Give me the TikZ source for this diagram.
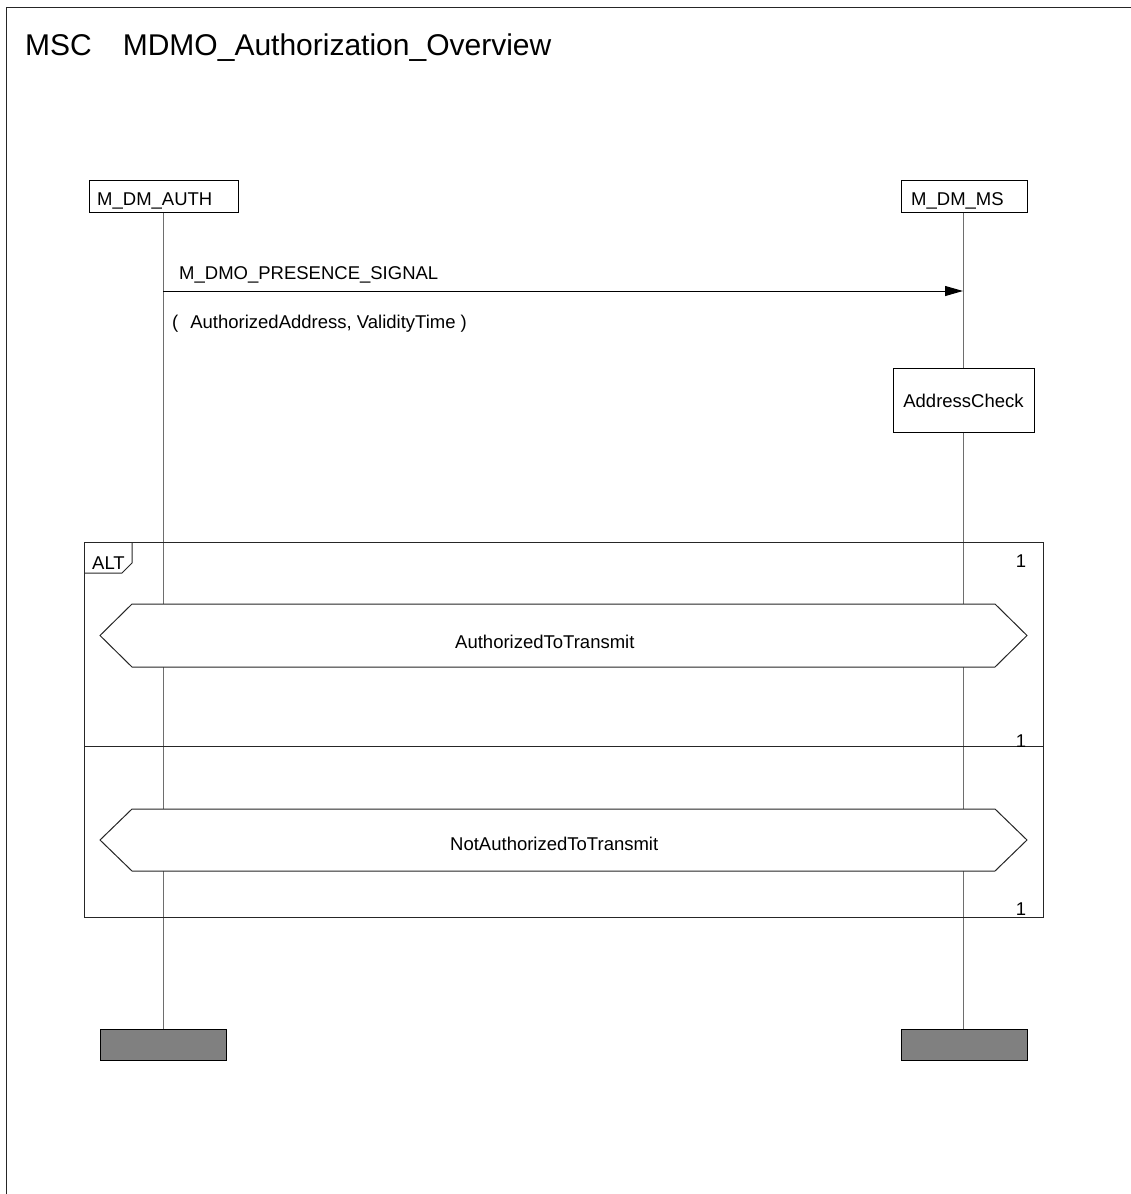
\documentclass[tikz,border=0pt]{standalone}
\usepackage{fontspec}
\setmainfont{Liberation Sans}
\usetikzlibrary{arrows.meta}
\definecolor{lifegray}{RGB}{110,110,110}
\definecolor{endgray}{RGB}{128,128,128}
\begin{document}
\begin{tikzpicture}[x=1pt,y=-1pt,
  lbl/.style={font=\fontsize{18.5}{22}\selectfont, inner sep=0pt},
  ttl/.style={font=\fontsize{30}{36}\selectfont, inner sep=0pt},
  inst/.style={draw=black, line width=1pt, fill=white, inner sep=0pt},
  endbox/.style={draw=black, line width=1pt, fill=endgray, inner sep=0pt, minimum width=126pt, minimum height=31pt},
  life/.style={draw=lifegray, line width=1pt},
  frm/.style={draw=black!85, line width=1pt},
  msg/.style={draw=black, line width=1pt, -{Triangle[length=18pt,width=10pt]}}
]
\useasboundingbox (0,0) rectangle (1131,1194);
% outer frame
\draw[frm] (6,1194) -- (6,7) -- (1131,7);
\node[ttl, anchor=base west] (title) at (25,55) {MSC\hspace{31pt}MDMO\_Authorization\_Overview};

% instance heads
\node[inst, minimum width=149pt, minimum height=32pt] (authH) at (163.5,196) {};
\node[lbl, anchor=base west] (authL) at (97,205) {M\_DM\_AUTH};
\node[inst, minimum width=126pt, minimum height=32pt] (msH) at (964,196) {};
\node[lbl, anchor=base west] (msL) at (911,205) {M\_DM\_MS};

% ends
\node[endbox] (authE) at (163,1044.5) {};
\node[endbox] (msE) at (964,1044.5) {};

% action
\node[inst, minimum width=141pt, minimum height=64pt] (chk) at (963.5,400) {};
\node[lbl, anchor=base] (chkL) at (963.5,407) {AddressCheck};

% lifelines
\draw[life] (authH.south -| 163,0) -- (authE.north -| 163,0);
\draw[life] (msH.south -| 963,0) -- (chk.north -| 963,0);
\draw[life] (chk.south -| 963,0) -- (msE.north -| 963,0);

% message
\coordinate (my) at (0,291);
\draw[msg] (my -| 163,0) -- (my -| 963,0);
\node[lbl, anchor=base west] (mlab) at (179,279) {M\_DMO\_PRESENCE\_SIGNAL};
\node[lbl, anchor=base west] (mpar) at (172,328) {(\hspace{12pt}AuthorizedAddress, ValidityTime )};

% ALT frame
\draw[frm] (84,542) rectangle (1043,917);
\draw[frm] (84,573) -- (122,573) -- (132,563) -- (132,542);
\node[lbl, anchor=base west] (altL) at (92,569) {ALT};
\draw[frm] (84,746) -- (1043,746);
\node[lbl, anchor=base] (one1) at (1021,567) {1};
\node[lbl, anchor=base] (one2) at (1021,747) {1};
\node[lbl, anchor=base] (one3) at (1021,915) {1};

% conditions
\draw[frm, fill=white] (100,635.5) -- (132,604) -- (995,604) -- (1027,635.5) -- (995,667) -- (132,667) -- cycle;
\node[lbl, anchor=base west] (c1) at (455,648) {AuthorizedToTransmit};
\draw[frm, fill=white] (100,840) -- (132,809) -- (995,809) -- (1027,840) -- (995,871) -- (132,871) -- cycle;
\node[lbl, anchor=base west] (c2) at (450,850) {NotAuthorizedToTransmit};
\end{tikzpicture}
\end{document}
